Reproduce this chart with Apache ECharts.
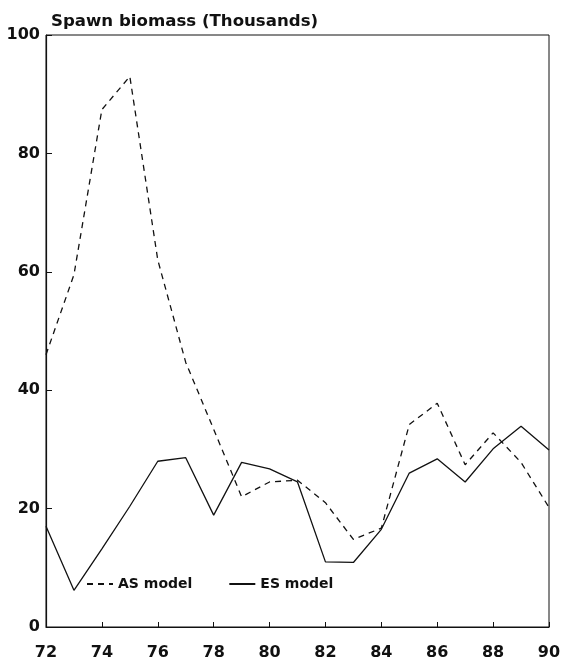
<!DOCTYPE html>
<html>
<head>
<meta charset="utf-8">
<script src="https://cdn.jsdelivr.net/npm/echarts@6/dist/echarts.min.js"></script>
<style>
html,body{margin:0;padding:0;background:#fff;}
#chart{width:565px;height:664px;}
</style>
</head>
<body>
<div id="chart"></div>
<script>
const years = [72,73,74,75,76,77,78,79,80,81,82,83,84,85,86,87,88,89,90];
const asModel = [46,59.5,87.4,93,62,44.7,33.4,22,24.5,24.8,21,14.8,16.7,34.2,37.8,27.4,32.8,27.8,20.2];
const esModel = [17,6.2,13.2,20.4,28,28.6,18.9,27.8,26.7,24.5,11,10.9,16.5,26,28.4,24.5,30.1,33.9,29.9];
const xTicks = [72,74,76,78,80,82,84,86,88,90];
const yTicks = [0,20,40,60,80,100];
const seriesNames = ['AS model','ES model'];
const titleText = 'Spawn biomass (Thousands)';

const font = 'DejaVu Sans';
const ink = '#111';

const chart = echarts.init(document.getElementById('chart'), null, {renderer:'canvas'});
chart.setOption({
  animation: false,
  backgroundColor: '#fff',
  title: {
    text: titleText,
    left: 46, top: 8,
    textStyle: {fontFamily: font, fontSize: 16.6, fontWeight: 'bold', color: ink}
  },
  legend: {
    data: seriesNames,
    left: 81, top: 572,
    itemWidth: 26, itemHeight: 14, itemGap: 36,
    itemStyle: {opacity: 0},
    textStyle: {fontFamily: font, fontSize: 14, fontWeight: 'bold', color: ink}
  },
  grid: {
    left: 46, right: 16, top: 35, bottom: 37,
    show: true, borderColor: ink, borderWidth: 1, backgroundColor: 'transparent'
  },
  xAxis: {
    type: 'value',
    min: xTicks[0], max: xTicks[xTicks.length-1], interval: xTicks[1]-xTicks[0],
    axisLine: {show: true, lineStyle: {color: ink, width: 1.2}},
    axisTick: {show: true, inside: true, length: 5, lineStyle: {color: ink}},
    splitLine: {show: false},
    axisLabel: {fontFamily: font, fontSize: 16, fontWeight: 'bold', color: ink, margin: 18}
  },
  yAxis: {
    type: 'value',
    min: yTicks[0], max: yTicks[yTicks.length-1], interval: yTicks[1]-yTicks[0],
    axisLine: {show: true, lineStyle: {color: ink, width: 1.2}},
    axisTick: {show: true, inside: true, length: 6, lineStyle: {color: ink}},
    splitLine: {show: false},
    axisLabel: {fontFamily: font, fontSize: 16, fontWeight: 'bold', color: ink, margin: 6}
  },
  series: [
    {
      name: seriesNames[0], type: 'line', symbol: 'none',
      data: years.map((y,i)=>[y, asModel[i]]),
      lineStyle: {color: ink, width: 1.3, type: [6,5]},
      itemStyle: {color: ink}
    },
    {
      name: seriesNames[1], type: 'line', symbol: 'none',
      data: years.map((y,i)=>[y, esModel[i]]),
      lineStyle: {color: ink, width: 1.3, type: 'solid'},
      itemStyle: {color: ink}
    }
  ]
});
</script>
</body>
</html>
